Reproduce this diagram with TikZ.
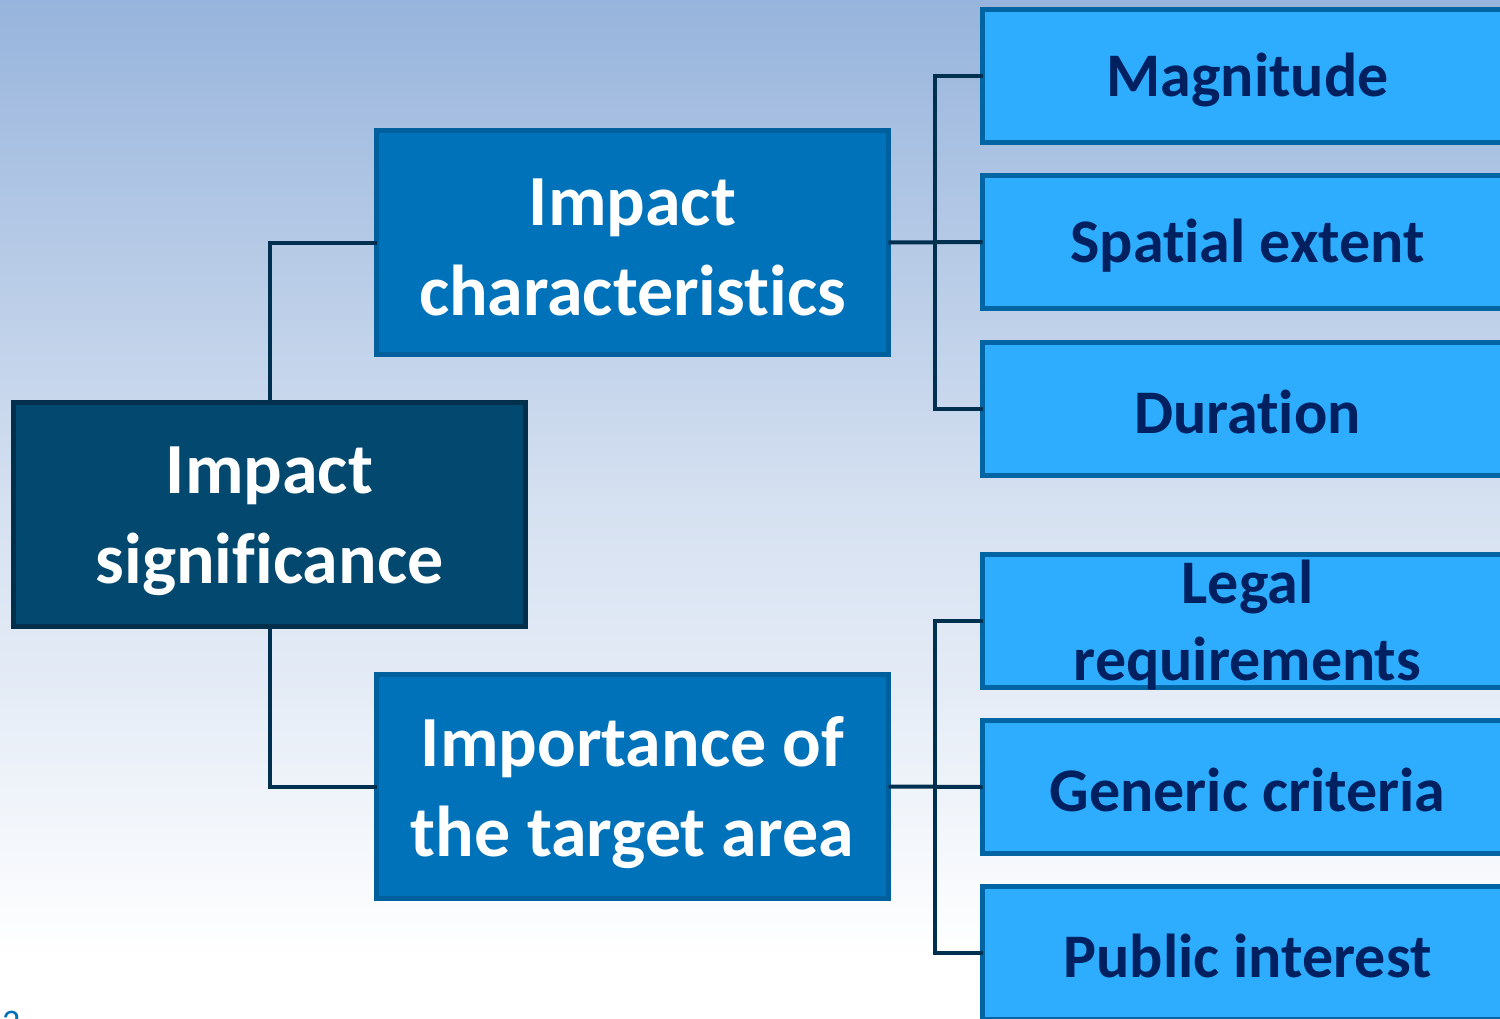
\documentclass[tikz,border=0pt]{standalone}
\usepackage{fontspec}
\setmainfont{Carlito}[RawFeature={-liga}]
\definecolor{bgtop}{HTML}{97B4DC}
\definecolor{bgmid}{HTML}{D6E1F1}
\definecolor{rootfill}{HTML}{03486F}
\definecolor{rootline}{HTML}{02304C}
\definecolor{midfill}{HTML}{0072BA}
\definecolor{midline}{HTML}{005F9D}
\definecolor{leaffill}{HTML}{2EADFF}
\definecolor{leafline}{HTML}{0065A2}
\definecolor{leaftext}{HTML}{002060}
\definecolor{connline}{HTML}{00304F}
\definecolor{numcol}{HTML}{0070B8}
\tikzset{
  x=1pt, y=-1pt,
  box/.style={rectangle, line width=5pt, inner sep=0pt, outer sep=0pt, anchor=north west},
  rootbox/.style={box, draw=rootline, fill=rootfill, minimum width=512pt, minimum height=224pt},
  midbox/.style={box, draw=midline, fill=midfill, minimum width=512pt, minimum height=224pt},
  leafbox/.style={box, draw=leafline, fill=leaffill, minimum width=530pt, minimum height=133pt},
  bigtext/.style={inner sep=0pt, align=center, text=white, font=\fontsize{72}{90}\selectfont\bfseries},
  leaftxt/.style={inner sep=0pt, align=center, text=leaftext, font=\fontsize{62}{77}\selectfont\bfseries},
  conn/.style={draw=connline, line width=4pt, line join=miter}
}
\begin{document}
\begin{tikzpicture}
\useasboundingbox (0,0) rectangle (1500,1018);
\shade[top color=bgtop, bottom color=white, middle color=bgmid] (0,0) rectangle (1500,1018);
\fill[white] (0,960) rectangle (1500,1018);
\shade[top color=bgmid!60!white, bottom color=white] (0,700) rectangle (1500,960);

\node[rootbox] (root) at (13.5,402.5) {};
\node[midbox] (ic) at (376.5,130.5) {};
\node[midbox] (ita) at (376.5,674.5) {};
\node[leafbox] (mag) at (982.5,9.5) {};
\node[leafbox] (spa) at (982.5,175.5) {};
\node[leafbox] (dur) at (982.5,342.5) {};
\node[leafbox] (leg) at (982.5,554.5) {};
\node[leafbox] (gen) at (982.5,720.5) {};
\node[leafbox] (pub) at (982.5,886.5) {};

\node[bigtext] (roott) at ([yshift=-7pt]root.center) {Impact\\significance};
\node[bigtext] (ict) at ([yshift=-5pt]ic.center) {Impact\\characteristics};
\node[bigtext] (itat) at ([yshift=-6pt]ita.center) {Importance of\\the target area};
\node[leaftxt] (magt) at ([yshift=-4pt]mag.center) {Magnitude};
\node[leaftxt] (spat) at ([yshift=-4pt]spa.center) {Spatial extent};
\node[leaftxt] (durt) at ([yshift=-3pt]dur.center) {Duration};
\node[leaftxt] (legt) at ([yshift=-4pt]leg.center) {Legal\\requirements};
\node[leaftxt] (gent) at ([yshift=-3pt]gen.center) {Generic criteria};
\node[leaftxt] (pubt) at ([yshift=-3pt]pub.center) {Public interest};

\coordinate (j1) at (935,241);
\coordinate (j2) at (935,786);

\draw[conn] (root.north) |- (ic.west);
\draw[conn] (root.south) |- (ita.west);
\draw[conn] (ic.east) -- (spa.west);
\draw[conn] (mag.west) -- (mag.west -| j1) -- (dur.west -| j1) -- (dur.west);
\draw[conn] (ita.east) -- (gen.west);
\draw[conn] (leg.west) -- (leg.west -| j2) -- (pub.west -| j2) -- (pub.west);

\node[anchor=base west, inner sep=0pt, text=numcol, font=\fontsize{36}{40}\selectfont] (num) at (2,1034) {2};
\end{tikzpicture}
\end{document}
